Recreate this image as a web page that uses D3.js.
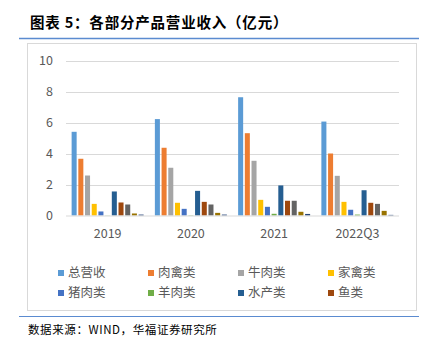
<!DOCTYPE html>
<html><head><meta charset="utf-8">
<script src="https://cdn.jsdelivr.net/npm/d3@7"></script>
<style>body{margin:0;background:#fff;}svg{display:block;}</style>
</head><body>
<svg id="c" width="432" height="347"></svg>
<script>
const categories = ["2019","2020","2021","2022Q3"];
const seriesNames = ["总营收","肉禽类","牛肉类","家禽类","猪肉类","羊肉类","水产类","鱼类","系列9","系列10","系列11"];
const legendNames = ["总营收","肉禽类","牛肉类","家禽类","猪肉类","羊肉类","水产类","鱼类"];
const colors = ["#5B9BD5","#ED7D31","#A5A5A5","#FFC000","#4472C4","#70AD47","#255E91","#9E480E","#636363","#997300","#264478"];
const s总营收 = [5.40,6.22,7.63,6.06];
const s肉禽类 = [3.66,4.37,5.31,4.00];
const s牛肉类 = [2.58,3.08,3.53,2.56];
const s家禽类 = [0.75,0.82,1.01,0.88];
const s猪肉类 = [0.26,0.43,0.56,0.37];
const s羊肉类 = [0.01,0.02,0.11,0.06];
const s水产类 = [1.55,1.59,1.94,1.63];
const s鱼类 = [0.84,0.88,0.95,0.82];
const s系列9 = [0.71,0.71,0.95,0.75];
const s系列10 = [0.13,0.17,0.24,0.30];
const s系列11 = [0.06,0.06,0.10,0.04];
const seriesValues = [s总营收,s肉禽类,s牛肉类,s家禽类,s猪肉类,s羊肉类,s水产类,s鱼类,s系列9,s系列10,s系列11];
const yTicks = [0,2,4,6,8,10];

(function(){
const svg = d3.select("#c");
const font = "'Noto Sans CJK SC','Noto Sans',sans-serif";

svg.append("text").attr("x",30).attr("y",28).attr("font-family",font).attr("font-weight","bold")
  .attr("font-size",14.5).attr("letter-spacing",0.8).attr("fill","#000").text("图表 5：各部分产品营业收入（亿元）");
svg.append("line").attr("x1",19).attr("x2",419).attr("y1",38.5).attr("y2",38.5).attr("stroke","#5b8bd0").attr("stroke-width",1.5);
svg.append("rect").attr("x",27.5).attr("y",43.5).attr("width",389).attr("height",267).attr("fill","none").attr("stroke","#d9d9d9");
svg.append("line").attr("x1",19).attr("x2",419).attr("y1",316.5).attr("y2",316.5).attr("stroke","#5b8bd0").attr("stroke-width",1.2);

const pL=66,pR=399,pT=60.5,pB=215.5;
const y = d3.scaleLinear().domain([0,10]).range([pB,pT]);
const x0 = d3.scaleBand().domain(categories).range([pL,pR]).padding(0);
const x1 = d3.scaleBand().domain(seriesNames).range([0,x0.bandwidth()]).paddingInner(0.25).paddingOuter(0.84);

svg.append("g").selectAll("line").data(yTicks.filter(d=>d>0)).join("line")
  .attr("x1",pL).attr("x2",pR).attr("y1",d=>Math.round(y(d))+0.5).attr("y2",d=>Math.round(y(d))+0.5)
  .attr("stroke","#d9d9d9").attr("stroke-width",1);

const g = svg.append("g");
categories.forEach((c,ci)=>{
  seriesNames.forEach((s,si)=>{
    const v = seriesValues[si][ci];
    g.append("rect").attr("x",x0(c)+x1(s)).attr("width",x1.bandwidth())
      .attr("y",y(v)).attr("height",pB-y(v)).attr("fill",colors[si]);
  });
});

svg.append("line").attr("x1",pL).attr("x2",pR).attr("y1",pB+0.5).attr("y2",pB+0.5).attr("stroke","#d9d9d9");

const yAxis = d3.axisLeft(y).tickValues(yTicks).tickSize(0).tickPadding(0);
const ya = svg.append("g").attr("transform",`translate(53,0)`).call(yAxis);
ya.select(".domain").remove();
ya.selectAll("text").attr("font-family",font).attr("font-size",12.5).attr("fill","#595959");

const xAxis = d3.axisBottom(x0).tickSize(0).tickPadding(0);
const xa = svg.append("g").attr("transform",`translate(0,229)`).call(xAxis);
xa.select(".domain").remove();
xa.selectAll("text").attr("font-family",font).attr("font-size",12.5).attr("fill","#595959");

const lg = svg.append("g");
legendNames.forEach((n,i)=>{
  const col=i%4,row=Math.floor(i/4);
  const lx=58+col*90, ly=273+row*20;
  lg.append("rect").attr("x",lx).attr("y",ly-3).attr("width",6).attr("height",6).attr("fill",colors[seriesNames.indexOf(n)]);
  lg.append("text").attr("x",lx+10).attr("y",ly).attr("dy","0.35em").attr("font-family",font)
    .attr("font-size",12.5).attr("fill","#595959").text(n);
});

svg.append("text").attr("x",28).attr("y",334).attr("font-family",font).attr("font-size",11.5).attr("letter-spacing",0.6).attr("fill","#000")
  .text("数据来源：WIND，华福证券研究所");
})();
</script>
</body></html>
